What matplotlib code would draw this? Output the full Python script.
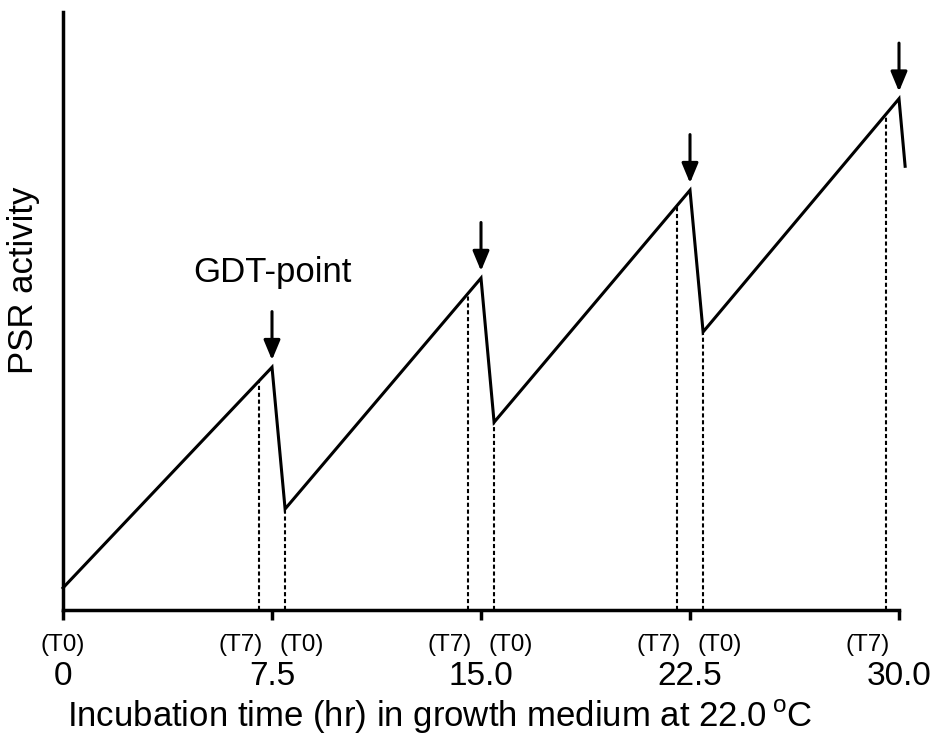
import matplotlib
matplotlib.use("Agg")
import matplotlib.pyplot as plt
import numpy as np

plt.rcParams["font.family"] = ["Liberation Sans", "DejaVu Sans"]
plt.rcParams["mathtext.fontset"] = "custom"
plt.rcParams["mathtext.rm"] = "Liberation Sans"

# sawtooth: PSR activity (arbitrary units) vs incubation time (hr)
times = [0.0, 7.5, 7.97, 15.0, 15.47, 22.5, 22.97, 30.0, 30.22]
activity = [3.7, 40.6, 16.9, 55.5, 31.4, 70.2, 46.5, 85.5, 74.2]

peak_times = [7.5, 15.0, 22.5, 30.0]
peak_activity = [40.6, 55.5, 70.2, 85.5]

t7_times = [7.03, 14.53, 22.03, 29.53]
t0_times = [0.0, 7.97, 15.47, 22.97]

tick_pos = [0, 7.5, 15.0, 22.5, 30.0]
tick_labels = ["0", "7.5", "15.0", "22.5", "30.0"]

fig = plt.figure(figsize=(9.35, 7.36), dpi=100)
ax = fig.add_axes([63 / 935, 126 / 736, 836 / 935, 598 / 736])

ax.plot(times, activity, color="black", lw=2.2, clip_on=False,
        solid_joinstyle="miter", zorder=3)

# dashed drop lines at T7 (on rising edge) and T0 (troughs)
t7_top = np.interp(t7_times, times, activity)
t0_top = np.interp(t0_times[1:], times, activity)
ax.vlines(t7_times, 0, t7_top, colors="black", lw=1.5, linestyles=(0, (2, 1.3)))
ax.vlines(t0_times[1:], 0, t0_top, colors="black", lw=1.5, linestyles=(0, (2, 1.3)))

# GDT-point arrows
for t, a in zip(peak_times, peak_activity):
    ax.annotate("", xy=(t, a + 1.2), xytext=(t, a + 9.3),
                arrowprops=dict(arrowstyle="-|>,head_length=0.6,head_width=0.25",
                                color="black", lw=2.2, mutation_scale=20,
                                shrinkA=0, shrinkB=0))
ax.text(peak_times[0], 56.5, "GDT-point", fontsize=25, ha="center", va="center")

ax.set_xlim(0, 30)
ax.set_ylim(0, 100)
ax.spines["top"].set_visible(False)
ax.spines["right"].set_visible(False)
ax.spines["left"].set_linewidth(2.5)
ax.spines["bottom"].set_linewidth(2.5)
ax.set_yticks([])
ax.set_xticks(tick_pos, tick_labels)
ax.tick_params(axis="x", direction="out", length=7, width=2.5, pad=30, labelsize=24)

# (T0)/(T7) markers under the axis
xt = ax.get_xaxis_transform()
ax.text(t0_times[0], -0.069, "(T0)", fontsize=17.5, ha="center", va="baseline", transform=xt)
for t in t0_times[1:]:
    ax.text(t - 0.2, -0.069, "(T0)", fontsize=17.5, ha="left", va="baseline", transform=xt)
for t in t7_times:
    ax.text(t + 0.15, -0.069, "(T7)", fontsize=17.5, ha="right", va="baseline", transform=xt)

ax.set_xlabel(r"Incubation time (hr) in growth medium at 22.0$\,^{\mathrm{o}}$C",
              fontsize=25)
ax.xaxis.set_label_coords(0.451, -0.146)
ax.set_ylabel("PSR activity", fontsize=25)
ax.yaxis.set_label_coords(-0.027, 0.552)

fig.savefig("out.png", dpi=100)
